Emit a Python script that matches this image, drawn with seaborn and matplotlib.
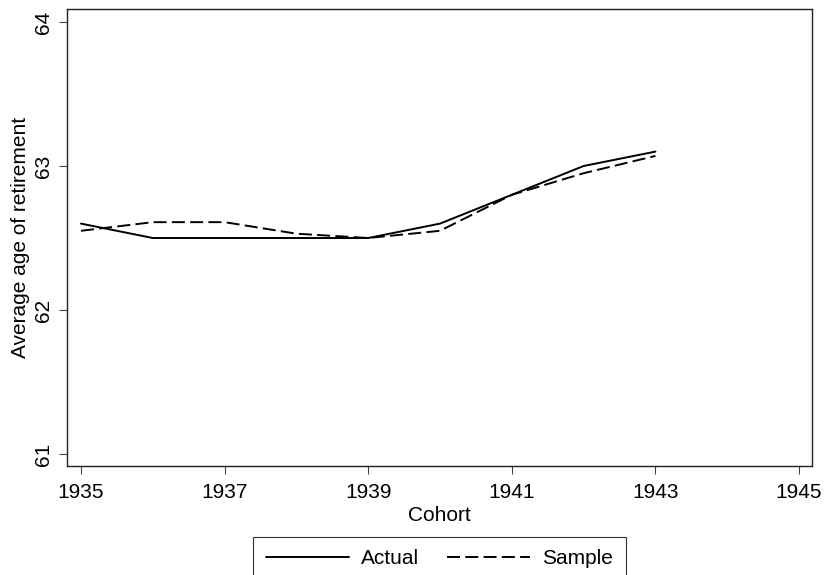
import matplotlib
matplotlib.use("Agg")
import matplotlib.pyplot as plt
import seaborn as sns
import pandas as pd

cohort = [1935, 1936, 1937, 1938, 1939, 1940, 1941, 1942, 1943]
actual = [62.60, 62.50, 62.50, 62.50, 62.50, 62.60, 62.80, 63.00, 63.10]
sample = [62.55, 62.61, 62.61, 62.53, 62.50, 62.55, 62.80, 62.95, 63.07]
series_names = ["Actual", "Sample"]
xticks = [1935, 1937, 1939, 1941, 1943, 1945]
yticks = [61, 62, 63, 64]

df = pd.DataFrame({
    "Cohort": cohort * 2,
    "Value": actual + sample,
    "Series": [series_names[0]] * len(cohort) + [series_names[1]] * len(cohort),
})

sns.set_theme(style="ticks")
plt.rcParams["font.family"] = ["Liberation Sans", "DejaVu Sans"]
plt.rcParams["text.color"] = "black"
plt.rcParams["axes.labelcolor"] = "black"
plt.rcParams["xtick.color"] = "#444444"
plt.rcParams["ytick.color"] = "#444444"
plt.rcParams["xtick.labelcolor"] = "black"
plt.rcParams["ytick.labelcolor"] = "black"

fig = plt.figure(figsize=(8.26, 5.75), dpi=100)
ax = fig.add_axes([0.0811, 0.1896, 0.983 - 0.0811, 0.9843 - 0.1896])

sns.lineplot(data=df, x="Cohort", y="Value", style="Series",
             style_order=series_names,
             dashes={"Actual": "", "Sample": (6.7, 2.7)},
             color="black", linewidth=1.4, ax=ax, legend=True)

ax.set_xlim(1934.805, 1945.18)
ax.set_ylim(60.917, 64.09)
ax.set_xticks(xticks)
ax.set_yticks(yticks)
ax.set_xticklabels([str(t) for t in xticks], fontsize=15)
ax.set_yticklabels([str(t) for t in yticks], fontsize=15, rotation=90, va="center")
ax.tick_params(direction="out", length=6, width=0.8, pad=4)
ax.tick_params(axis="x", pad=6)
for s in ax.spines.values():
    s.set_visible(True)
    s.set_color("#222222")
    s.set_linewidth(1.0)

ax.set_xlabel("Cohort", fontsize=15, labelpad=3)
ax.set_ylabel("Average age of retirement", fontsize=15, labelpad=3)

handles, labels = ax.get_legend_handles_labels()
ax.get_legend().remove()
leg = fig.legend(handles, labels, loc="upper left", ncol=2,
                 bbox_to_anchor=(253 / 826, 1 - 537 / 575), fontsize=15, frameon=True,
                 fancybox=False, edgecolor="black", handlelength=4.0,
                 handletextpad=0.6, columnspacing=1.3, borderpad=0.6,
                 borderaxespad=0.0)
leg.get_frame().set_linewidth(0.8)

fig.savefig("out.png", dpi=100)
